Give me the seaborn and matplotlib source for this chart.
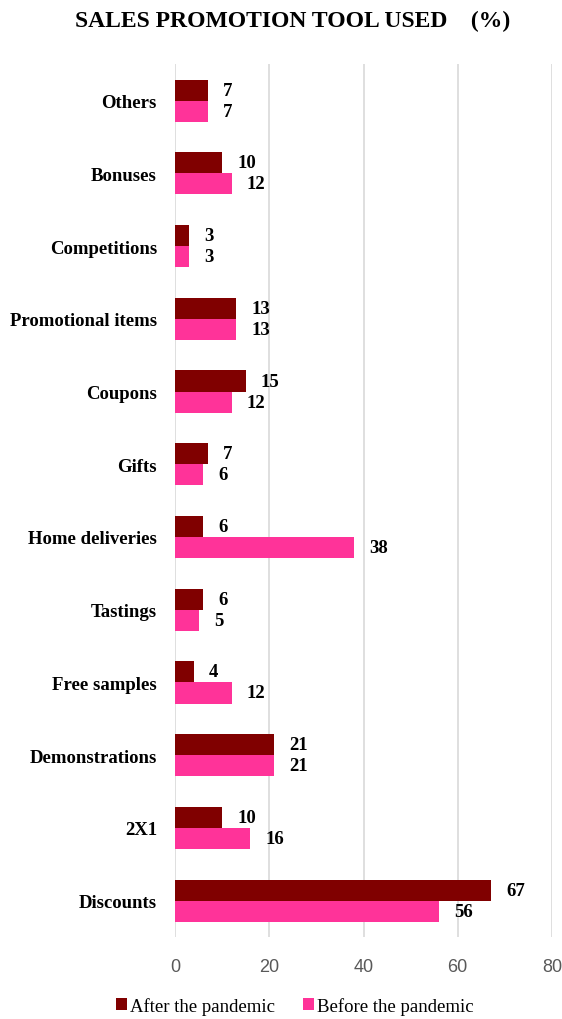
import seaborn as sns
import pandas as pd
import matplotlib.pyplot as plt

categories = ['Others', 'Bonuses', 'Competitions', 'Promotional items', 'Coupons', 'Gifts',
              'Home deliveries', 'Tastings', 'Free samples', 'Demonstrations', '2X1', 'Discounts']
after = [7, 10, 3, 13, 15, 7, 6, 6, 4, 21, 10, 67]
before = [7, 12, 3, 13, 12, 6, 38, 5, 12, 21, 16, 56]
series = ['After the pandemic', 'Before the pandemic']
colors = ['#800000', '#FF3399']

df = pd.DataFrame({
    'tool': categories * 2,
    'value': after + before,
    'period': [series[0]] * len(categories) + [series[1]] * len(categories),
})

sns.set_style('white')
plt.rcParams['font.family'] = ['Liberation Serif', 'DejaVu Serif']
plt.rcParams['text.color'] = 'black'
plt.rcParams['ytick.color'] = 'black'

fig = plt.figure(figsize=(5.62, 10.2), dpi=100)
ax = fig.add_axes([0.3114, 0.0804, 0.6708, 0.8556])
sns.barplot(data=df, x='value', y='tool', hue='period', order=categories,
            hue_order=series, palette=colors, width=0.58, orient='h', ax=ax,
            saturation=1, linewidth=0, legend=True)

for cont in ax.containers:
    for bar in cont:
        w = bar.get_width()
        ax.annotate(f'{w:.0f}', (w, bar.get_y() + bar.get_height() / 2),
                    xytext=(11, 0), textcoords='offset points', ha='left', va='center',
                    fontsize=13.5, fontweight='bold', color='black')

ax.set_xlim(0, 80)
ax.set_xticks([0, 20, 40, 60, 80])
ax.xaxis.grid(True, color='#d9d9d9', linewidth=1.2)
ax.set_axisbelow(True)
for s in ax.spines.values():
    s.set_visible(False)
ax.tick_params(axis='both', length=0)
ax.tick_params(axis='x', labelsize=13, labelcolor='#595959', pad=15)
for t in ax.get_xticklabels():
    t.set_family(['Liberation Sans', 'DejaVu Sans'])
ax.tick_params(axis='y', labelsize=13.5, pad=13, labelcolor='black')
for t in ax.get_yticklabels():
    t.set_fontweight('bold')
ax.set_xlabel('')
ax.set_ylabel('')

leg = ax.legend(loc='center', bbox_to_anchor=(0.318, -0.0786), ncol=2, frameon=False,
                handlelength=0.6, handleheight=0.6, handletextpad=0.15, columnspacing=1.5,
                fontsize=13.5)
for t in leg.get_texts():
    t.set_color('black')

fig.text(0.52, 0.979, 'SALES PROMOTION TOOL USED    (%)', ha='center', va='center',
         fontsize=17, fontweight='bold', color='black')

fig.savefig('out.png', dpi=100)
